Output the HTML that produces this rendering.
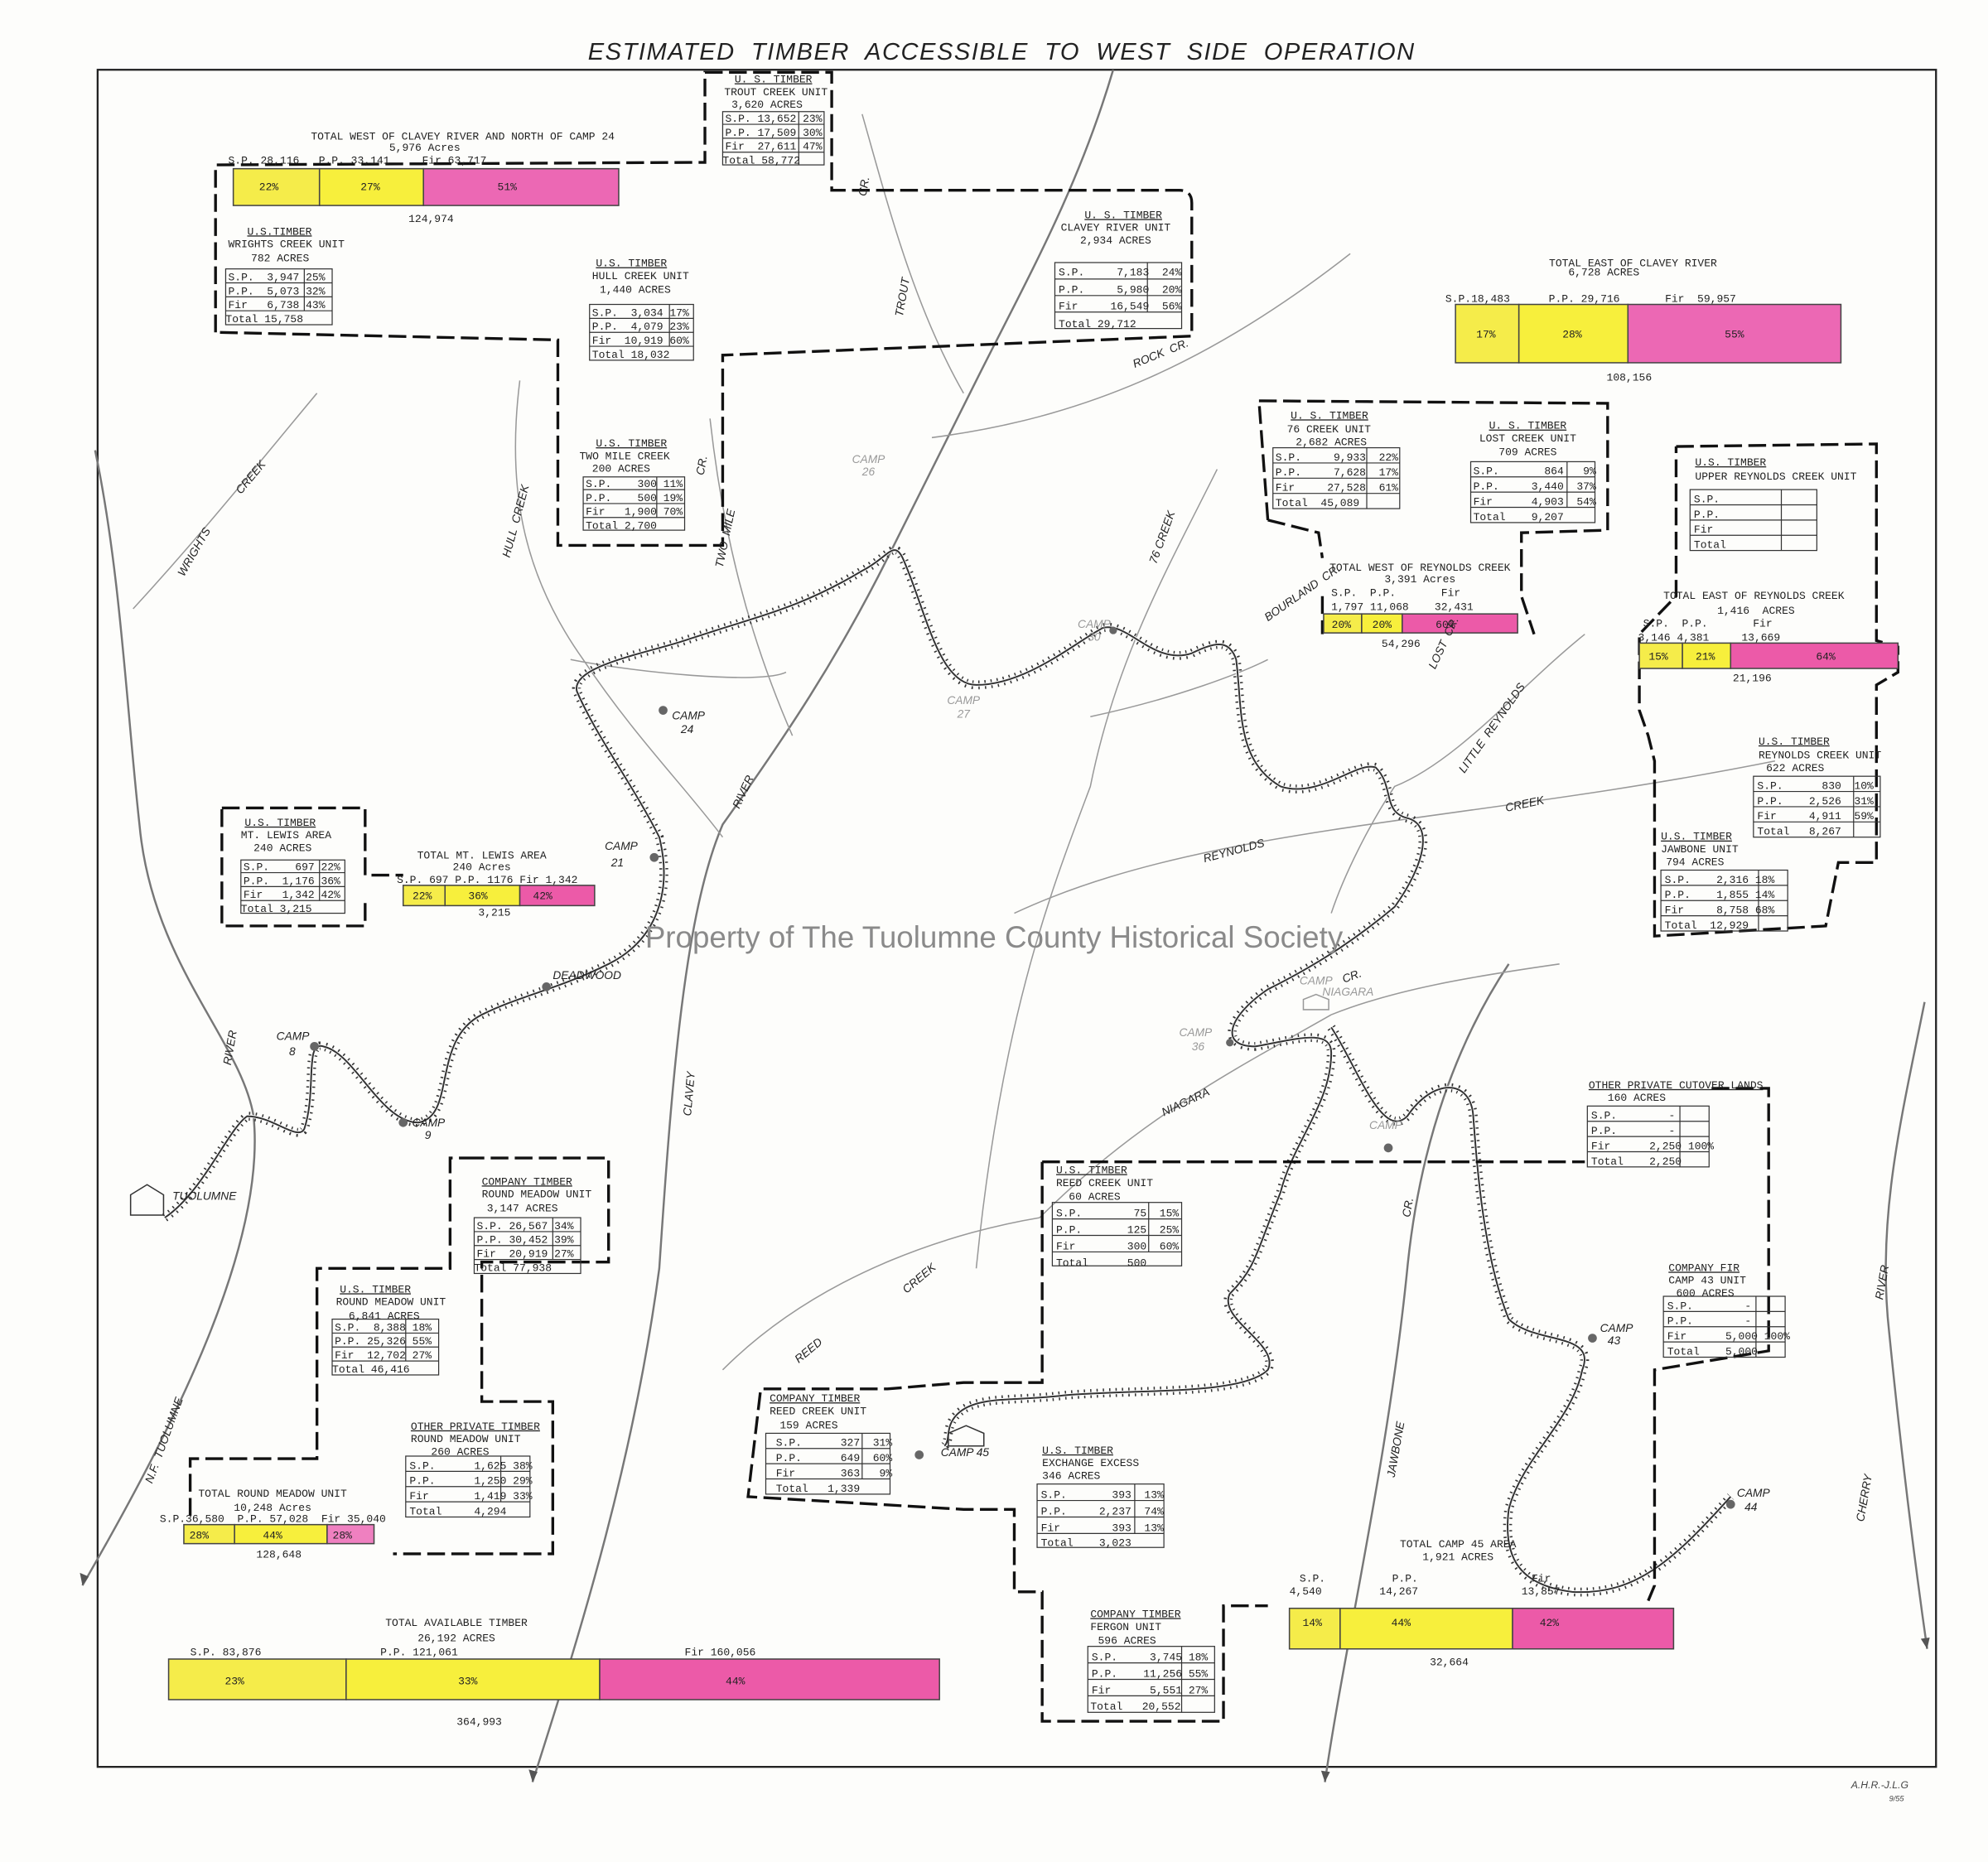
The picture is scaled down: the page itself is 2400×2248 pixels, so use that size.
<!DOCTYPE html>
<html><head><meta charset="utf-8">
<style>
html,body{margin:0;padding:0;background:#fff;}
svg{display:block;}
text{font-family:"Liberation Mono",monospace;fill:#222;white-space:pre;}
.s{font-size:8.5px;}
text.h{font-family:"Liberation Sans",sans-serif;font-style:italic;}
text.wm{font-family:"Liberation Sans",sans-serif;fill:#8a8a8a;}
.lab text, text.lab{font-family:"Liberation Sans",sans-serif;font-style:italic;font-size:9px;}
text.sig{font-family:"Liberation Sans",sans-serif;font-style:italic;fill:#444;}
</style></head><body>
<svg width="2400" height="2248" viewBox="0 0 1568 1468" preserveAspectRatio="none" xmlns="http://www.w3.org/2000/svg">
<rect width="1568" height="1468" fill="#fdfdfb"/>
<text x="790" y="47" text-anchor="middle" class="h" font-size="19" letter-spacing="1">ESTIMATED  TIMBER  ACCESSIBLE  TO  WEST  SIDE  OPERATION</text>
<rect x="77" y="55" width="1450" height="1338" fill="none" stroke="#222" stroke-width="1.5"/>

<g fill="none" stroke="#777" stroke-width="1.6">
<path d="M75,355 C95,450 100,560 110,650 C120,760 190,820 200,880 C210,980 140,1120 65,1250"/>
<path d="M878,55 C850,150 810,220 770,300 C740,360 720,400 700,440 C660,520 620,580 570,650 C540,720 530,850 520,1000 C500,1150 460,1280 420,1405"/>
<path d="M1518,790 C1500,880 1480,960 1490,1050 C1500,1150 1510,1230 1520,1300"/>
<path d="M1190,760 C1150,820 1120,900 1110,1000 C1095,1150 1060,1300 1045,1405"/>
</g>
<g fill="none" stroke="#999" stroke-width="1">
<path d="M105,480 C160,420 200,370 250,310"/>
<path d="M410,300 C400,380 410,450 460,520 C500,580 540,620 570,660"/>
<path d="M560,330 C570,420 590,500 625,580"/>
<path d="M680,90 C700,160 720,240 760,310"/>
<path d="M735,345 C850,330 950,290 1065,200"/>
<path d="M960,370 C920,450 880,520 860,620 C830,700 790,800 770,1000"/>
<path d="M450,520 C500,530 600,540 620,530"/>
<path d="M860,565 C930,550 980,530 1000,520"/>
<path d="M1250,500 C1200,540 1150,600 1100,620 C1080,650 1060,690 1050,720"/>
<path d="M800,720 C950,650 1150,650 1400,600"/>
<path d="M570,1080 C650,1000 760,970 820,960 C900,880 980,840 1050,800"/>
<path d="M1050,800 C1100,780 1160,770 1230,760"/>
</g>
<g fill="#555"><path d="M65,1250 l-2,-10 l7,3z"/><path d="M420,1405 l-3,-10 l7,2z"/><path d="M1045,1405 l-3,-9 l7,1z"/><path d="M1520,1300 l-5,-8 l7,-1z"/></g>

<g fill="none" stroke="#333">
<path id="rr1" d="M130,960 C160,940 180,890 195,880 C215,880 235,900 240,890 C250,860 240,820 255,825 C280,830 300,885 330,885 C360,880 340,820 380,800 C410,785 440,780 480,760 C520,740 530,700 520,660 C500,620 470,580 455,545 C450,525 510,515 540,505 C600,485 630,480 680,450 C700,440 705,425 712,440 C730,480 740,540 770,540 C810,540 850,505 870,495 C890,490 910,525 940,515 C960,505 970,505 975,520 C980,560 975,600 1010,620 C1040,630 1070,600 1085,605 C1100,620 1090,640 1110,645 C1130,650 1125,680 1100,715 C1070,740 1040,760 1000,780 C970,800 960,825 990,825 C1020,820 1050,810 1050,830 C1050,870 1020,900 1010,940 C990,990 990,1000 970,1020 C960,1040 1010,1060 1000,1080 C980,1100 900,1095 840,1100 C800,1105 770,1100 755,1115 C745,1125 750,1135 745,1140"/>
<path id="rr2" d="M1050,810 C1070,840 1090,900 1110,880 C1130,850 1160,850 1162,880 C1165,920 1170,990 1190,1040 C1210,1060 1260,1050 1248,1080 C1240,1120 1200,1150 1190,1190 C1185,1230 1200,1250 1240,1255 C1290,1258 1320,1230 1365,1180"/>
</g>
<g fill="none" stroke="#333" stroke-width="7" stroke-dasharray="1 4"><use href="#rr1"/><use href="#rr2"/></g>
<g fill="none" stroke="#fff" stroke-width="2.5"><use href="#rr1"/><use href="#rr2"/></g>
<g fill="none" stroke="#333" stroke-width="1.3"><use href="#rr1"/><use href="#rr2"/></g>

<g fill="none" stroke="#111" stroke-width="2.2" stroke-dasharray="14 5">
<path d="M170,262 L170,130 L548,128 L556,128 L556,57 L656,57 L656,150 L930,150 Q940,150 940,160 L940,265 L570,280 L570,430 L440,430 L440,268 L170,262"/>
<path d="M993,316 L1268,318 L1268,418 L1200,420 L1200,470 L1210,500 M1043,470 L1043,500 M1000,410 L993,316 M1000,410 L1040,420 L1043,440"/>
<path d="M1322,352 L1480,350 L1480,505 L1497,510 L1497,530 L1480,540 L1480,680 L1450,680 L1440,730 L1305,738 L1305,600 L1300,580 L1293,560 L1293,500 L1322,470 L1322,352"/>
<path d="M175,637 L288,637 L288,690 L318,690 M288,712 L288,730 L175,730 L175,637"/>
<path d="M368,913 L480,913 L480,995 L380,995 L380,1105 L436,1105 L436,1225 L310,1225 M150,1195 L150,1150 L250,1150 L250,1000 L355,1000 L355,913 L368,913"/>
<path d="M822,916 L1250,916 M822,916 L822,1090 L760,1090 L700,1095 L600,1095 L590,1180 L760,1190 L800,1190 L800,1255 L822,1255 L822,1357 L965,1357 L965,1266 L1000,1266"/>
<path d="M1350,858 L1395,858 L1395,1065 L1305,1080 L1305,1250 L1300,1262"/>
</g>

<g stroke="#444" stroke-width="1">
<rect x="184" y="133" width="68" height="29" fill="#f5ec4a"/><rect x="252" y="133" width="82" height="29" fill="#f7ef3c"/><rect x="334" y="133" width="154" height="29" fill="#ec68b4"/>
<rect x="1148" y="240" width="50" height="46" fill="#f5ec4a"/><rect x="1198" y="240" width="86" height="46" fill="#f7ef3c"/><rect x="1284" y="240" width="168" height="46" fill="#ec68b4"/>
<rect x="1044" y="484" width="30" height="15" fill="#f5ec4a"/><rect x="1074" y="484" width="32" height="15" fill="#f7ef3c"/><rect x="1106" y="484" width="91" height="15" fill="#ec5aa8"/>
<rect x="1293" y="507" width="34" height="20" fill="#f5ec4a"/><rect x="1327" y="507" width="38" height="20" fill="#f7ef3c"/><rect x="1365" y="507" width="132" height="20" fill="#ec5aa8"/>
<rect x="318" y="698" width="33" height="16" fill="#f5ec4a"/><rect x="351" y="698" width="59" height="16" fill="#f7ef3c"/><rect x="410" y="698" width="59" height="16" fill="#ec5aa8"/>
<rect x="145" y="1202" width="40" height="15" fill="#f5ec4a"/><rect x="185" y="1202" width="73" height="15" fill="#f7ef3c"/><rect x="258" y="1202" width="37" height="15" fill="#ef80c0"/>
<rect x="133" y="1308" width="140" height="32" fill="#f5ec4a"/><rect x="273" y="1308" width="200" height="32" fill="#f7ef3c"/><rect x="473" y="1308" width="268" height="32" fill="#ec5aa8"/>
<rect x="1017" y="1268" width="40" height="32" fill="#f5ec4a"/><rect x="1057" y="1268" width="136" height="32" fill="#f7ef3c"/><rect x="1193" y="1268" width="127" height="32" fill="#ec5aa8"/>
</g>
<g class="s" text-anchor="middle">
<text x="212" y="150">22%</text><text x="292" y="150">27%</text><text x="400" y="150">51%</text>
<text x="1172" y="266">17%</text><text x="1240" y="266">28%</text><text x="1368" y="266">55%</text>
<text x="1058" y="495">20%</text><text x="1090" y="495">20%</text><text x="1140" y="495">60%</text>
<text x="1308" y="520">15%</text><text x="1345" y="520">21%</text><text x="1440" y="520">64%</text>
<text x="333" y="709">22%</text><text x="377" y="709">36%</text><text x="428" y="709">42%</text>
<text x="157" y="1213">28%</text><text x="215" y="1213">44%</text><text x="270" y="1213">28%</text>
<text x="185" y="1328">23%</text><text x="369" y="1328">33%</text><text x="580" y="1328">44%</text>
<text x="1035" y="1282">14%</text><text x="1105" y="1282">44%</text><text x="1222" y="1282">42%</text>
</g>

<g class="s">
<text x="365" y="110" text-anchor="middle">TOTAL WEST OF CLAVEY RIVER AND NORTH OF CAMP 24</text>
<text x="335" y="119" text-anchor="middle">5,976 Acres</text>
<text x="180" y="129">S.P. 28,116   P.P. 33,141     Fir 63,717</text>
<text x="340" y="175" text-anchor="middle">124,974</text>
<text x="1288" y="210" text-anchor="middle">TOTAL EAST OF CLAVEY RIVER</text>
<text x="1265" y="217" text-anchor="middle">6,728 ACRES</text>
<text x="1140" y="238">S.P.18,483      P.P. 29,716       Fir  59,957</text>
<text x="1285" y="300" text-anchor="middle">108,156</text>
<text x="1120" y="450" text-anchor="middle">TOTAL WEST OF REYNOLDS CREEK</text>
<text x="1120" y="459" text-anchor="middle">3,391 Acres</text>
<text x="1050" y="470">S.P.  P.P.       Fir</text>
<text x="1050" y="481">1,797 11,068    32,431</text>
<text x="1105" y="510" text-anchor="middle">54,296</text>
<text x="1312" y="472">TOTAL EAST OF REYNOLDS CREEK</text>
<text x="1385" y="484" text-anchor="middle">1,416  ACRES</text>
<text x="1296" y="494">S.P.  P.P.       Fir</text>
<text x="1292" y="505">3,146 4,381     13,669</text>
<text x="1382" y="537" text-anchor="middle">21,196</text>
<text x="380" y="677" text-anchor="middle">TOTAL MT. LEWIS AREA</text>
<text x="380" y="686" text-anchor="middle">240 Acres</text>
<text x="313" y="696">S.P. 697 P.P. 1176 Fir 1,342</text>
<text x="390" y="722" text-anchor="middle">3,215</text>
<text x="215" y="1180" text-anchor="middle">TOTAL ROUND MEADOW UNIT</text>
<text x="215" y="1191" text-anchor="middle">10,248 Acres</text>
<text x="126" y="1200">S.P.36,580  P.P. 57,028  Fir 35,040</text>
<text x="220" y="1228" text-anchor="middle">128,648</text>
<text x="360" y="1282" text-anchor="middle">TOTAL AVAILABLE TIMBER</text>
<text x="360" y="1294" text-anchor="middle">26,192 ACRES</text>
<text x="150" y="1305">S.P. 83,876</text><text x="300" y="1305">P.P. 121,061</text><text x="540" y="1305">Fir 160,056</text>
<text x="378" y="1360" text-anchor="middle">364,993</text>
<text x="1150" y="1220" text-anchor="middle">TOTAL CAMP 45 AREA</text>
<text x="1150" y="1230" text-anchor="middle">1,921 ACRES</text>
<text x="1025" y="1247">S.P.</text><text x="1098" y="1247">P.P.</text><text x="1208" y="1247">Fir</text>
<text x="1017" y="1257">4,540</text><text x="1088" y="1257">14,267</text><text x="1200" y="1257">13,857</text>
<text x="1143" y="1313" text-anchor="middle">32,664</text>
</g>

<g class="s">
<g stroke="#333" stroke-width="0.8" fill="none">
<rect x="570" y="88" width="80" height="42"/><path d="M570,98H650M570,109H650M570,120H650M630,88V130"/>
<rect x="178" y="212" width="84" height="44"/><path d="M178,223H262M178,234H262M178,245H262M240,212V245"/>
<rect x="465" y="240" width="82" height="44"/><path d="M465,251H547M465,262H547M465,273H547M528,240V273"/>
<rect x="832" y="207" width="100" height="52"/><path d="M832,220H932M832,233H932M832,246H932M905,207V246"/>
<rect x="460" y="376" width="80" height="42"/><path d="M460,386H540M460,397H540M460,408H540M518,376V408"/>
<rect x="1004" y="353" width="100" height="48"/><path d="M1004,365H1104M1004,377H1104M1004,389H1104M1078,353V401"/>
<rect x="1160" y="364" width="98" height="48"/><path d="M1160,376H1258M1160,388H1258M1160,400H1258M1236,364V400"/>
<rect x="1333" y="386" width="100" height="48"/><path d="M1333,398H1433M1333,410H1433M1333,422H1433M1405,386V434"/>
<rect x="1383" y="612" width="100" height="48"/><path d="M1383,624H1483M1383,636H1483M1383,648H1483M1462,612V660"/>
<rect x="1310" y="686" width="100" height="48"/><path d="M1310,698H1410M1310,710H1410M1310,722H1410M1387,686V734"/>
<rect x="190" y="678" width="82" height="42"/><path d="M190,688H272M190,699H272M190,710H272M252,678V710"/>
<rect x="374" y="960" width="84" height="44"/><path d="M374,971H458M374,982H458M374,993H458M436,960V993"/>
<rect x="262" y="1040" width="84" height="44"/><path d="M262,1051H346M262,1062H346M262,1073H346M320,1040V1073"/>
<rect x="320" y="1148" width="98" height="48"/><path d="M320,1160H418M320,1172H418M320,1184H418M395,1148V1184"/>
<rect x="604" y="1130" width="98" height="48"/><path d="M604,1142H702M604,1154H702M604,1166H702M680,1130V1166"/>
<rect x="830" y="948" width="102" height="50"/><path d="M830,961H932M830,974H932M830,987H932M906,948V987"/>
<rect x="818" y="1170" width="100" height="50"/><path d="M818,1183H918M818,1196H918M818,1209H918M895,1170V1209"/>
<rect x="858" y="1298" width="100" height="52"/><path d="M858,1311H958M858,1324H958M858,1337H958M932,1298V1350"/>
<rect x="1252" y="872" width="96" height="48"/><path d="M1252,884H1348M1252,896H1348M1252,908H1348M1325,872V920"/>
<rect x="1312" y="1022" width="96" height="48"/><path d="M1312,1034H1408M1312,1046H1408M1312,1058H1408M1385,1022V1070"/>
</g>
<g>
<text x="610" y="65" text-anchor="middle" text-decoration="underline">U. S. TIMBER</text><text x="612" y="75" text-anchor="middle">TROUT CREEK UNIT</text><text x="605" y="85" text-anchor="middle">3,620 ACRES</text>
<text x="572" y="96">S.P. 13,652 23%</text><text x="572" y="107">P.P. 17,509 30%</text><text x="572" y="118">Fir  27,611 47%</text><text x="570" y="129">Total 58,772</text>
<text x="195" y="185" text-decoration="underline">U.S.TIMBER</text><text x="180" y="195">WRIGHTS CREEK UNIT</text><text x="198" y="206">782 ACRES</text>
<text x="180" y="221">S.P.  3,947 25%</text><text x="180" y="232">P.P.  5,073 32%</text><text x="180" y="243">Fir   6,738 43%</text><text x="178" y="254">Total 15,758</text>
<text x="470" y="210" text-decoration="underline">U.S. TIMBER</text><text x="467" y="220">HULL CREEK UNIT</text><text x="473" y="231">1,440 ACRES</text>
<text x="467" y="249">S.P.  3,034 17%</text><text x="467" y="260">P.P.  4,079 23%</text><text x="467" y="271">Fir  10,919 60%</text><text x="467" y="282">Total 18,032</text>
<text x="886" y="172" text-anchor="middle" text-decoration="underline">U. S. TIMBER</text><text x="880" y="182" text-anchor="middle">CLAVEY RIVER UNIT</text><text x="880" y="192" text-anchor="middle">2,934 ACRES</text>
<text x="835" y="217">S.P.     7,183  24%</text><text x="835" y="231">P.P.     5,980  20%</text><text x="835" y="244">Fir     16,549  56%</text><text x="835" y="258">Total 29,712</text>
<text x="470" y="352" text-decoration="underline">U.S. TIMBER</text><text x="457" y="362">TWO MILE CREEK</text><text x="467" y="372">200 ACRES</text>
<text x="462" y="384">S.P.    300 11%</text><text x="462" y="395">P.P.    500 19%</text><text x="462" y="406">Fir   1,900 70%</text><text x="462" y="417">Total 2,700</text>
<text x="1018" y="330" text-decoration="underline">U. S. TIMBER</text><text x="1015" y="341">76 CREEK UNIT</text><text x="1022" y="351">2,682 ACRES</text>
<text x="1006" y="363">S.P.     9,933  22%</text><text x="1006" y="375">P.P.     7,628  17%</text><text x="1006" y="387">Fir     27,528  61%</text><text x="1006" y="399">Total  45,089</text>
<text x="1205" y="338" text-anchor="middle" text-decoration="underline">U. S. TIMBER</text><text x="1205" y="348" text-anchor="middle">LOST CREEK UNIT</text><text x="1205" y="359" text-anchor="middle">709 ACRES</text>
<text x="1162" y="374">S.P.       864   9%</text><text x="1162" y="386">P.P.     3,440  37%</text><text x="1162" y="398">Fir      4,903  54%</text><text x="1162" y="410">Total    9,207</text>
<text x="1337" y="367" text-decoration="underline">U.S. TIMBER</text><text x="1337" y="378">UPPER REYNOLDS CREEK UNIT</text>
<text x="1336" y="396">S.P.</text><text x="1336" y="408">P.P.</text><text x="1336" y="420">Fir</text><text x="1336" y="432">Total</text>
<text x="1387" y="587" text-decoration="underline">U.S. TIMBER</text><text x="1387" y="598">REYNOLDS CREEK UNIT</text><text x="1393" y="608">622 ACRES</text>
<text x="1386" y="622">S.P.      830  10%</text><text x="1386" y="634">P.P.    2,526  31%</text><text x="1386" y="646">Fir     4,911  59%</text><text x="1386" y="658">Total   8,267</text>
<text x="1310" y="662" text-decoration="underline">U.S. TIMBER</text><text x="1310" y="672">JAWBONE UNIT</text><text x="1314" y="682">794 ACRES</text>
<text x="1313" y="696">S.P.    2,316 18%</text><text x="1313" y="708">P.P.    1,855 14%</text><text x="1313" y="720">Fir     8,758 68%</text><text x="1313" y="732">Total  12,929</text>
<text x="193" y="651" text-decoration="underline">U.S. TIMBER</text><text x="190" y="661">MT. LEWIS AREA</text><text x="200" y="671">240 ACRES</text>
<text x="192" y="686">S.P.    697 22%</text><text x="192" y="697">P.P.  1,176 36%</text><text x="192" y="708">Fir   1,342 42%</text><text x="190" y="719">Total 3,215</text>
<text x="380" y="934" text-decoration="underline">COMPANY TIMBER</text><text x="380" y="944">ROUND MEADOW UNIT</text><text x="384" y="955">3,147 ACRES</text>
<text x="376" y="969">S.P. 26,567 34%</text><text x="376" y="980">P.P. 30,452 39%</text><text x="376" y="991">Fir  20,919 27%</text><text x="374" y="1002">Total 77,938</text>
<text x="268" y="1019" text-decoration="underline">U.S. TIMBER</text><text x="265" y="1029">ROUND MEADOW UNIT</text><text x="275" y="1040">6,841 ACRES</text>
<text x="264" y="1049">S.P.  8,388 18%</text><text x="264" y="1060">P.P. 25,326 55%</text><text x="264" y="1071">Fir  12,702 27%</text><text x="262" y="1082">Total 46,416</text>
<text x="324" y="1127" text-decoration="underline">OTHER PRIVATE TIMBER</text><text x="324" y="1137">ROUND MEADOW UNIT</text><text x="340" y="1147">260 ACRES</text>
<text x="323" y="1158">S.P.      1,625 38%</text><text x="323" y="1170">P.P.      1,250 29%</text><text x="323" y="1182">Fir       1,419 33%</text><text x="323" y="1194">Total     4,294</text>
<text x="607" y="1105" text-decoration="underline">COMPANY TIMBER</text><text x="607" y="1115">REED CREEK UNIT</text><text x="615" y="1126">159 ACRES</text>
<text x="612" y="1140">S.P.      327  31%</text><text x="612" y="1152">P.P.      649  60%</text><text x="612" y="1164">Fir       363   9%</text><text x="612" y="1176">Total   1,339</text>
<text x="833" y="925" text-decoration="underline">U.S. TIMBER</text><text x="833" y="935">REED CREEK UNIT</text><text x="843" y="946">60 ACRES</text>
<text x="833" y="959">S.P.        75  15%</text><text x="833" y="972">P.P.       125  25%</text><text x="833" y="985">Fir        300  60%</text><text x="833" y="998">Total      500</text>
<text x="822" y="1146" text-decoration="underline">U.S. TIMBER</text><text x="822" y="1156">EXCHANGE EXCESS</text><text x="822" y="1166">346 ACRES</text>
<text x="821" y="1181">S.P.       393  13%</text><text x="821" y="1194">P.P.     2,237  74%</text><text x="821" y="1207">Fir        393  13%</text><text x="821" y="1219">Total    3,023</text>
<text x="860" y="1275" text-decoration="underline">COMPANY TIMBER</text><text x="860" y="1285">FERGON UNIT</text><text x="866" y="1296">596 ACRES</text>
<text x="861" y="1309">S.P.     3,745 18%</text><text x="861" y="1322">P.P.    11,256 55%</text><text x="861" y="1335">Fir      5,551 27%</text><text x="860" y="1348">Total   20,552</text>
<text x="1253" y="858" text-decoration="underline">OTHER PRIVATE CUTOVER LANDS</text><text x="1268" y="868">160 ACRES</text>
<text x="1255" y="882">S.P.        -</text><text x="1255" y="894">P.P.        -</text><text x="1255" y="906">Fir      2,250 100%</text><text x="1255" y="918">Total    2,250</text>
<text x="1316" y="1002" text-decoration="underline">COMPANY FIR</text><text x="1316" y="1012">CAMP 43 UNIT</text><text x="1322" y="1022">600 ACRES</text>
<text x="1315" y="1032">S.P.        -</text><text x="1315" y="1044">P.P.        -</text><text x="1315" y="1056">Fir      5,000 100%</text><text x="1315" y="1068">Total    5,000</text>
</g>
</g>

<g class="lab">
<text transform="translate(145,455) rotate(-60)">WRIGHTS</text>
<text transform="translate(190,390) rotate(-50)">CREEK</text>
<text transform="translate(402,440) rotate(-75)">HULL  CREEK</text>
<text transform="translate(570,448) rotate(-78)">TWO  MILE</text>
<text transform="translate(555,375) rotate(-80)">CR.</text>
<text transform="translate(712,250) rotate(-80)">TROUT</text>
<text transform="translate(683,155) rotate(-80)">CR.</text>
<text transform="translate(895,290) rotate(-22)">ROCK  CR.</text>
<text transform="translate(912,445) rotate(-70)">76 CREEK</text>
<text transform="translate(1000,490) rotate(-35)">BOURLAND  CR.</text>
<text transform="translate(1132,528) rotate(-65)">LOST  CR.</text>
<text transform="translate(1155,610) rotate(-55)">LITTLE  REYNOLDS</text>
<text transform="translate(950,680) rotate(-15)">REYNOLDS</text>
<text transform="translate(1188,640) rotate(-12)">CREEK</text>
<text transform="translate(583,638) rotate(-65)">RIVER</text>
<text transform="translate(545,880) rotate(-85)">CLAVEY</text>
<text transform="translate(182,840) rotate(-80)">RIVER</text>
<text transform="translate(120,1170) rotate(-70)">N.F.  TUOLUMNE</text>
<text transform="translate(918,880) rotate(-25)">NIAGARA</text>
<text transform="translate(1060,775) rotate(-20)">CR.</text>
<text transform="translate(630,1075) rotate(-40)">REED</text>
<text transform="translate(715,1020) rotate(-40)">CREEK</text>
<text transform="translate(1100,1165) rotate(-80)">JAWBONE</text>
<text transform="translate(1112,960) rotate(-80)">CR.</text>
<text transform="translate(1470,1200) rotate(-80)">CHERRY</text>
<text transform="translate(1485,1025) rotate(-80)">RIVER</text>
<text x="530" y="567">CAMP</text><text x="537" y="578">24</text>
<text x="477" y="670">CAMP</text><text x="482" y="683">21</text>
<text x="436" y="772">DEADWOOD</text>
<text x="218" y="820">CAMP</text><text x="228" y="832">8</text>
<text x="325" y="888">CAMP</text><text x="335" y="898">9</text>
<text x="136" y="946">TUOLUMNE</text>
<text x="742" y="1148">CAMP 45</text>
<text x="1262" y="1050">CAMP</text><text x="1268" y="1060">43</text>
<text x="1370" y="1180">CAMP</text><text x="1376" y="1191">44</text>
<text x="672" y="365" style="fill:#999">CAMP</text><text x="680" y="375" style="fill:#999">26</text>
<text x="850" y="495" style="fill:#999">CAMP</text><text x="858" y="505" style="fill:#999">30</text>
<text x="747" y="555" style="fill:#999">CAMP</text><text x="755" y="566" style="fill:#999">27</text>
<text x="1025" y="776" style="fill:#999">CAMP</text><text x="1043" y="785" style="fill:#999">NIAGARA</text>
<text x="930" y="817" style="fill:#999">CAMP</text><text x="940" y="828" style="fill:#999">36</text>
<text x="1080" y="890" style="fill:#999">CAMP</text>
</g>
<g fill="#666">
<circle cx="523" cy="560" r="3.5"/><circle cx="516" cy="676" r="3.5"/><circle cx="431" cy="778" r="3.5"/><circle cx="248" cy="825" r="3.5"/><circle cx="318" cy="885" r="3.5"/><circle cx="725" cy="1147" r="3.5"/><circle cx="1256" cy="1055" r="3.5"/><circle cx="1365" cy="1186" r="3.5"/><circle cx="1095" cy="905" r="3.5"/><circle cx="970" cy="822" r="3"/><circle cx="878" cy="497" r="3"/>
</g>
<g fill="none" stroke="#333" stroke-width="1"><path d="M103,958 V942 L116,934 L129,942 V958 Z"/><path d="M748,1140 V1130 L762,1124 L776,1130 V1140Z"/><path d="M1028,796 V788 L1038,784 L1048,788 V796Z" stroke="#999"/></g>

<text x="784" y="747" text-anchor="middle" class="wm" font-size="24">Property of The Tuolumne County Historical Society</text>
<text x="1460" y="1410" class="sig" font-size="8">A.H.R.-J.L.G</text>
<text x="1490" y="1420" class="sig" font-size="6">9/55</text>
</svg>
</body></html>
